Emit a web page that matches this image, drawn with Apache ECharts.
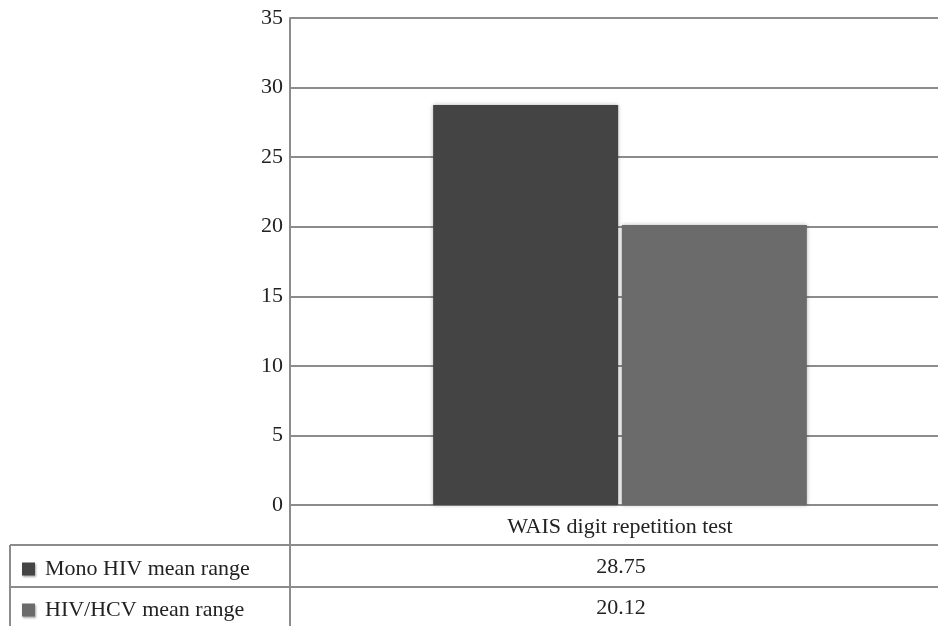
<!DOCTYPE html>
<html><head><meta charset="utf-8">
<script src="https://cdn.jsdelivr.net/npm/echarts@6/dist/echarts.min.js"></script>
<style>html,body{margin:0;padding:0;background:#fff}#c{width:938px;height:626px}</style>
</head><body><div id="c"></div>
<script>
var categories = ['WAIS digit repetition test'];
var seriesNames = ['Mono HIV mean range', 'HIV/HCV mean range'];
var monoHIV = [28.75];
var hivHCV = [20.12];
var colors = ['#444444', '#6b6b6b'];

var FONT = 'Liberation Serif';
var FS = 22;
var chart = echarts.init(document.getElementById('c'));
var lineCol = '#8c8c8c';
var tableVals = [monoHIV, hivHCV];
var graphics = [
  {type:'line', shape:{x1:10,y1:545,x2:938,y2:545}, style:{stroke:lineCol,lineWidth:2}},
  {type:'line', shape:{x1:10,y1:587,x2:938,y2:587}, style:{stroke:lineCol,lineWidth:2}},
  {type:'line', shape:{x1:10,y1:545,x2:10,y2:626}, style:{stroke:lineCol,lineWidth:2}},
  {type:'line', shape:{x1:290,y1:505,x2:290,y2:626}, style:{stroke:lineCol,lineWidth:2}}
];
tableVals.forEach(function(arr, i){
  graphics.push({type:'text', x:621, y:567 + i*41, style:{text:arr[0].toFixed(2), font:FS + 'px "' + FONT + '"', fill:'#222', textAlign:'center', textVerticalAlign:'middle'}});
});
var legends = seriesNames.map(function(n, i){
  return {orient:'horizontal', left:17, top:553 + i*41, itemWidth:13, itemHeight:13,
    icon:'rect', data:[n], selectedMode:false,
    itemStyle:{shadowBlur:2, shadowColor:'rgba(0,0,0,0.35)', shadowOffsetX:1, shadowOffsetY:1},
    textStyle:{fontFamily:FONT, fontSize:FS, color:'#222', padding:[0,0,0,5]}};
});
chart.setOption({
  animation:false,
  backgroundColor:'#fff',
  grid:{left:290, right:-12, top:18, bottom:121, containLabel:false, outerBoundsMode:'none'},
  legend:legends,
  xAxis:{type:'category', data:categories,
    axisLine:{lineStyle:{color:lineCol, width:2}}, axisTick:{show:false},
    axisLabel:{fontFamily:FONT, fontSize:FS, color:'#222', margin:11}},
  yAxis:{type:'value', min:0, max:35, interval:5,
    axisLine:{show:true, lineStyle:{color:lineCol, width:2}}, axisTick:{show:false},
    splitLine:{lineStyle:{color:lineCol, width:2}},
    axisLabel:{fontFamily:FONT, fontSize:FS, color:'#222', margin:7}},
  series:[
    {name:seriesNames[0], type:'bar', data:monoHIV, barWidth:185, barGap:'2%',
     itemStyle:{color:colors[0], shadowBlur:4, shadowColor:'rgba(0,0,0,0.3)'}},
    {name:seriesNames[1], type:'bar', data:hivHCV, barWidth:185, barGap:'2%',
     itemStyle:{color:colors[1], shadowBlur:4, shadowColor:'rgba(0,0,0,0.3)'}}
  ],
  graphic:graphics
});
</script></body></html>
